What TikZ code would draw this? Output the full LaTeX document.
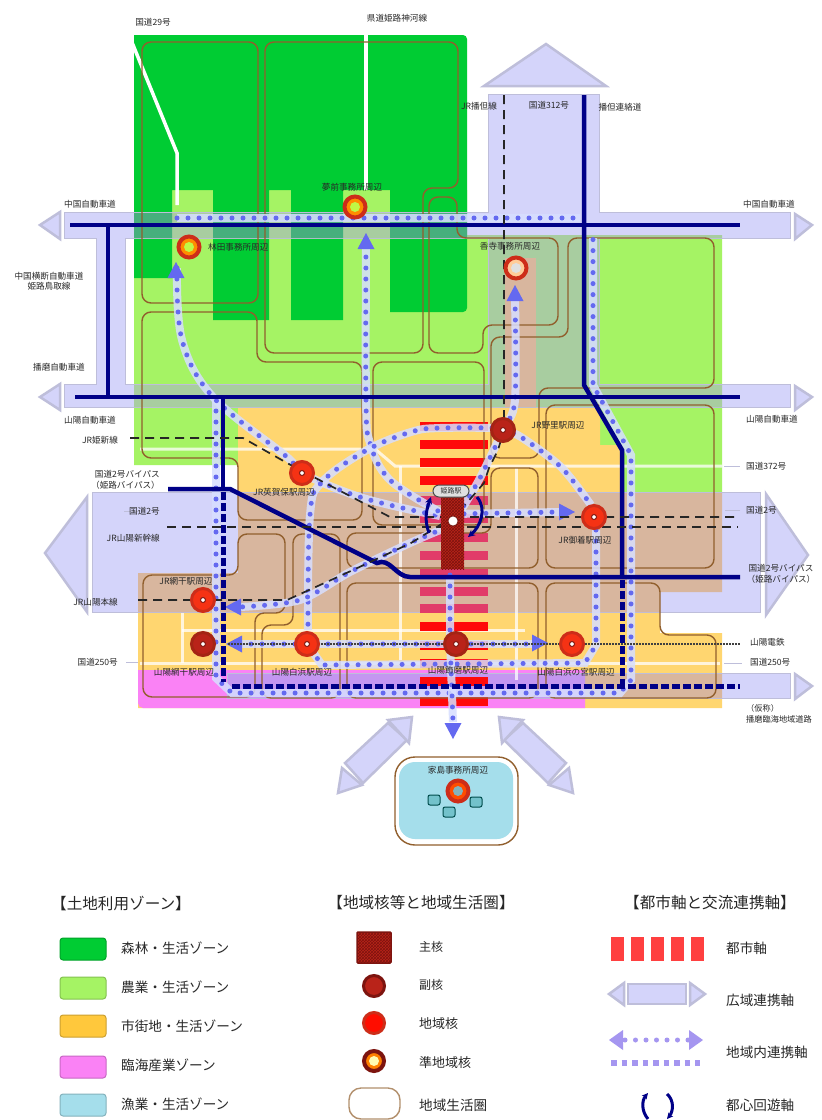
\documentclass[tikz,border=0pt]{standalone}
\usepackage{fontspec}
\setmainfont{Noto Sans CJK JP}
\usetikzlibrary{patterns,arrows.meta}
\definecolor{forestz}{RGB}{0,204,51}
\definecolor{farmz}{RGB}{165,243,100}
\definecolor{cityz}{RGB}{255,214,112}
\definecolor{portz}{RGB}{250,130,245}
\definecolor{fishz}{RGB}{165,222,235}
\definecolor{forestt}{RGB}{70,175,125}
\definecolor{farmt}{RGB}{168,205,160}
\definecolor{cityt}{RGB}{216,182,158}
\definecolor{portt}{RGB}{195,150,240}
\definecolor{lav}{RGB}{212,212,250}
\definecolor{lavline}{RGB}{190,190,218}
\definecolor{navy}{RGB}{0,0,135}
\definecolor{sphere}{RGB}{145,95,45}
\definecolor{linkb}{RGB}{100,105,240}
\definecolor{halo}{RGB}{215,222,255}
\definecolor{redaxis}{RGB}{255,10,10}
\definecolor{crim}{RGB}{225,60,105}
\definecolor{corered}{RGB}{185,35,25}
\definecolor{coredark}{RGB}{125,20,15}
\definecolor{regred}{RGB}{245,50,20}
\definecolor{ringred}{RGB}{205,45,25}
\definecolor{txt}{RGB}{40,40,40}
\definecolor{legorange}{RGB}{255,200,60}
\definecolor{leglink}{RGB}{165,150,240}
\tikzset{
  x=1pt,y=-1pt,
  lbl/.style={text=txt,font=\fontsize{8.6}{10.5}\selectfont,inner sep=0pt,align=center},
  leg/.style={text=txt,font=\fontsize{13.6}{15}\selectfont,inner sep=0pt,anchor=west},
  legh/.style={text=black!85,font=\fontsize{15.6}{17}\selectfont,inner sep=0pt},
  bandline/.style={draw=lavline,line width=2.5pt,fill=lav},
  lifesphere/.style={draw=sphere,line width=1.4pt,rounded corners=9pt},
  roadw/.style={draw=white,line width=3pt,opacity=.75},
  navyl/.style={draw=navy,line width=4.5pt},
  navyd/.style={draw=navy,line width=5pt,dash pattern=on 8pt off 3pt},
  rail/.style={draw=black!85,line width=1.7pt,dash pattern=on 9pt off 6pt},
  halol/.style={draw=halo,line width=8pt,opacity=.85},
  dotl/.style={draw=linkb,line width=5pt,line cap=round,dash pattern=on 0pt off 11pt},
  regional/.style={circle,inner sep=0pt,minimum size=23pt,draw=ringred,line width=3pt,fill=regred},
  subcore/.style={circle,inner sep=0pt,minimum size=23pt,draw=ringred!80!black,line width=3pt,fill=corered},
  hubdot/.style={circle,inner sep=0pt,minimum size=5pt,draw=corered!70!black,line width=1pt,fill=white},
  quasiout/.style={circle,inner sep=0pt,minimum size=21pt,draw=ringred,line width=4pt,fill=orange!90!yellow},
  quasiin/.style={circle,inner sep=0pt,minimum size=10pt},
  swatch/.style={rounded corners=3pt,line width=1pt},
}
\newcommand{\zonesall}[5]{%
  \fill[#2] (134,190) -- (467,190) -- (467,235) -- (722,235) -- (722,493) -- (590,493) -- (590,465) -- (134,465) -- cycle;
  \fill[#1,rounded corners=4pt] (134,35) -- (467,35) -- (467,312) [sharp corners] -- (390,312) -- (390,190) -- (343,190) -- (343,320) -- (291,320) -- (291,190) -- (269,190) -- (269,320) -- (213,320) -- (213,190) -- (172,190) -- (172,278) -- (134,278) -- cycle;
  \fill[#3] (505,258) rectangle (536,408);
  \fill[#3] (238,408) -- (600,408) -- (600,445) -- (620,445) -- (620,493) -- (722,493) -- (722,592) -- (660,592) -- (660,633) -- (722,633) -- (722,708) -- (138,708) -- (138,573) -- (238,573) -- cycle;
  \fill[#4,rounded corners=5pt] (138,670) -- (138,708) -- (400,708) [sharp corners] -- (585,708) -- (585,670) -- cycle;
}
\newcommand{\bandbody}[2]{\draw[draw=lavline,line width=2.5pt] #1 rectangle #2;}
\newcommand{\bandfill}[2]{\fill[lav] #1 rectangle #2;}
\newcommand{\dotlink}[1]{\draw[halol] #1; \draw[dotl] #1;}
\newcommand{\tipat}[3]{\fill[linkb,shift={(#1,#2)},rotate=#3] (0,0) -- (-16,-8.5) -- (-16,8.5) -- cycle;}
\begin{document}
\begin{tikzpicture}
\useasboundingbox (0,0) rectangle (822,1120);
\fill[white] (0,0) rectangle (822,1120);
% hub positions
\coordinate (pa) at (355,207); \coordinate (pb) at (189,247); \coordinate (pc) at (516,268);
\coordinate (pd) at (503,430); \coordinate (pe) at (302,473); \coordinate (pf) at (594,517);
\coordinate (pg) at (203,600); \coordinate (ph) at (203,644); \coordinate (pi) at (307,644);
\coordinate (pj) at (456,644); \coordinate (pk) at (572,644); \coordinate (pl) at (458,791);
\coordinate (pz) at (453,521);
% zones
\zonesall{forestz}{farmz}{cityz}{portz}{}
% bands: outlines first, then fills so that they merge
\bandbody{(97,225)}{(125,397)}
\bandbody{(489,95)}{(599,400)}
\bandbody{(65,213)}{(790,238)}
\bandbody{(65,385)}{(790,407)}
\bandbody{(93,493)}{(760,612)}
\bandbody{(228,674)}{(790,698)}
\bandfill{(97,225)}{(125,397)}
\bandfill{(489,95)}{(599,400)}
\bandfill{(65,213)}{(790,238)}
\bandfill{(65,385)}{(790,407)}
\bandfill{(93,493)}{(760,612)}
\bandfill{(228,674)}{(790,698)}
\begin{scope}
\clip (489,95) rectangle (599,400) (65,213) rectangle (790,238) (65,385) rectangle (790,407) (93,493) rectangle (760,612) (228,674) rectangle (790,698);
\zonesall{forestt}{farmt}{cityt}{portt}{}
\end{scope}
\draw[bandline] (40,225) -- (60,212) -- (60,239) -- cycle;
\draw[bandline] (40,397) -- (60,384) -- (60,410) -- cycle;
\draw[bandline] (812,225) -- (795,214) -- (795,239) -- cycle;
\draw[bandline] (812,397) -- (795,386) -- (795,410) -- cycle;
\draw[bandline] (812,686) -- (795,674) -- (795,699) -- cycle;
\draw[bandline] (546,44) -- (606,86) -- (484,86) -- cycle;
\draw[bandline] (45,553) -- (87,497) -- (87,612) -- cycle;
\draw[bandline] (808,555) -- (766,494) -- (766,615) -- cycle;
% diagonal bands
\draw[bandline] (345,763) -- (363,783) -- (407,740) -- (388,723) -- cycle;
\draw[bandline] (342,768) -- (338,793) -- (362,785) -- cycle;
\draw[bandline] (388,720) -- (412,717) -- (409,743) -- cycle;
\draw[bandline] (566,763) -- (548,783) -- (504,740) -- (523,723) -- cycle;
\draw[bandline] (569,768) -- (573,793) -- (549,785) -- cycle;
\draw[bandline] (523,720) -- (499,717) -- (502,743) -- cycle;
% roads
\draw[white,line width=3.5pt] (129,35) -- (177,153) -- (177,205);
\draw[white,line width=4pt] (366,35) -- (366,190);
\draw[roadw] (140,449) -- (375,449) -- (395,466) -- (722,466);
\draw[roadw] (140,663) -- (720,663);
\draw[roadw] (182,613) -- (182,663);
\draw[roadw] (182,630) -- (525,630);
\draw[roadw] (516,468) -- (516,680);
\draw[roadw] (400,466) -- (400,660);
\draw[lavline,line width=1pt] (724,466) -- (740,466) (126,662) -- (138,662) (724,663) -- (742,663);
\draw[lavline,line width=1pt] (740,510) -- (725,510) (124,511) -- (140,511);
% island
\fill[fishz,rounded corners=16pt] (399,762) rectangle (513,839);
\draw[lifesphere,rounded corners=20pt] (395,757) rectangle (518,845);
% axis stripes
\foreach \yy in {422,440,458,476} \fill[redaxis] (420,\yy) rectangle (488,\yy+8.5);
\foreach \yy in {496,514,533,551,569,587} \fill[crim] (420,\yy) rectangle (488,\yy+8.5);
\foreach \yy in {604} \fill[crim] (420,\yy) rectangle (488,\yy+8.5);
\foreach \yy in {622,641,659,677,697} \fill[redaxis] (420,\yy) rectangle (488,\yy+8.5);
% life spheres
\draw[lifesphere] (142,42) rectangle (258,303);
\draw[lifesphere] (265,42) -- (458,42) -- (458,188) -- (423,188) -- (423,353) -- (265,353) -- cycle;
\draw[lifesphere] (429,197) -- (457,197) -- (457,238) -- (558,238) -- (558,325) -- (483,325) -- (483,353) -- (429,353) -- cycle;
\draw[lifesphere] (142,312) -- (257,312) -- (257,362) -- (362,362) -- (362,520) -- (238,520) -- (238,458) -- (142,458) -- cycle;
\draw[lifesphere] (373,362) -- (484,362) -- (484,525) -- (373,525) -- cycle;
\draw[lifesphere] (491,337) -- (568,337) -- (568,238) -- (714,238) -- (714,388) -- (539,388) -- (539,458) -- (491,458) -- cycle;
\draw[lifesphere] (546,405) -- (714,405) -- (714,568) -- (546,568) -- cycle;
\draw[lifesphere] (347,533) -- (491,533) -- (491,468) -- (538,468) -- (538,568) -- (347,568) -- cycle;
\draw[lifesphere] (143,575) -- (238,575) -- (238,534) -- (285,534) -- (285,613) -- (255,613) -- (255,697) -- (143,697) -- cycle;
\draw[lifesphere] (293,534) -- (340,534) -- (340,698) -- (262,698) -- (262,625) -- (293,625) -- cycle;
\draw[lifesphere] (347,583) -- (538,583) -- (538,698) -- (347,698) -- cycle;
\draw[lifesphere] (546,583) -- (660,583) -- (660,635) -- (716,635) -- (716,698) -- (546,698) -- cycle;
% dotted links
\dotlink{(216,400) -- (216,678) -- (232,693) -- (620,693) -- (631,680) -- (631,455) -- (593,385) -- (593,238)}
\dotlink{(177,218) -- (580,218)}
\dotlink{plot[smooth,tension=.6] coordinates {(177,268) (182,340) (213,397) (287,457) (302,473) (363,498) (440,516)}}
\dotlink{plot[smooth,tension=.6] coordinates {(366,246) (366,400) (370,443) (390,480) (440,512)}}
\dotlink{plot[smooth,tension=.5] coordinates {(515,298) (515,400) (503,430) (480,478) (460,512)}}
\dotlink{plot[smooth,tension=.6] coordinates {(503,428) (440,428) (411,432) (367,450) (322,482) (310,515) (308,630)}}
\dotlink{plot[smooth,tension=.5] coordinates {(503,430) (521,437) (561,467) (591,505)}}
\dotlink{(596,530) -- (596,645) -- (585,663) -- (322,665) -- (307,644)}
\dotlink{(453,514) -- (560,512)}
\dotlink{plot[smooth,tension=.5] coordinates {(445,528) (410,543) (350,572) (300,600) (240,607)}}
\dotlink{(240,644) -- (535,644)}
\dotlink{(450,575) -- (450,640) -- (453,722)}
\tipat{176}{262}{90}
\tipat{366}{233}{90}
\tipat{515}{285}{90}
\tipat{575}{512}{0}
\tipat{225}{607}{180}
\tipat{226}{644}{180}
\tipat{548}{643}{0}
\tipat{453}{739}{270}
% navy axes
\draw[navyl] (70,225) -- (740,225);
\draw[navyl] (75,397) -- (740,397);
\draw[navyl] (108,225) -- (108,397);
\draw[navyl] (584,95) -- (584,385) -- (594,402) -- (622,450) -- (622,577);
\draw[navyl] (168,489) -- (230,489) -- (377,563) to[out=25,in=180] (410,577) -- (740,577);
\draw[navyl] (223,397) -- (223,489);
\draw[navyd] (223,492) -- (223,682);
\draw[navyd] (622,580) -- (622,686);
\draw[navyd] (232,686) -- (740,686);
% rails
\draw[rail] (130,438) -- (243,438) -- (287,463) -- (390,517) -- (738,517);
\draw[rail] (167,527) -- (738,527);
\draw[rail] (138,600) -- (287,600) -- (353,570) -- (411,543) -- (453,517);
\draw[rail] (504,95) -- (504,430) -- (498,450) -- (489,468) -- (484,483) -- (465,505);
\draw[draw=black!75,line width=1.6pt,dash pattern=on 2pt off 1pt] (228,644) -- (740,644);
% main core
\fill[corered] (441,497) rectangle (464,569);
\fill[pattern=crosshatch,pattern color=coredark] (441,497) rectangle (464,569);
\node[circle,inner sep=0pt,minimum size=10pt,fill=white,draw=corered!60!black,line width=.6pt] (core) at (pz) {};
\node[draw=black!70,fill=black!12,line width=1pt,rounded corners=6pt,inner sep=1pt,minimum width=36pt,minimum height=12pt,font=\fontsize{7}{8}\selectfont,text=black!80] (corelabel) at (451,491) {姫路駅};
\draw[navy,line width=3pt,-{Stealth[length=7pt,width=7pt]}] (429,533) to[out=110,in=250] (431,497);
\draw[navy,line width=3pt,-{Stealth[length=7pt,width=7pt]}] (477,497) to[out=-50,in=40] (468,537);
% hubs
\foreach \nm/\pos in {ra/pe,rb/pf,rc/pg,rd/pi,re/pk}{\node[regional] (\nm) at (\pos) {}; \node[hubdot] (\nm d) at (\pos) {};}
\foreach \nm/\pos in {sa/pd,sb/ph,sc/pj}{\node[subcore] (\nm) at (\pos) {}; \node[hubdot] (\nm d) at (\pos) {};}
\node[quasiout] (qa) at (pa) {}; \node[quasiin,fill=farmz!70!yellow] (qad) at (pa) {};
\node[quasiout] (qb) at (pb) {}; \node[quasiin,fill=farmz!70!yellow] (qbd) at (pb) {};
\node[quasiout,fill=white!60!orange,draw=ringred] (qc) at (pc) {}; \node[quasiin,fill=black!12] (qcd) at (pc) {};
\node[quasiout,fill=orange!60!red] (ql) at (pl) {}; \node[quasiin,fill=fishz!80!black] (qld) at (pl) {};
% island squares
\foreach \nm/\xx/\yy in {isa/434/800,isb/476/802,isc/449/812}{\node[draw=teal!60!black,fill=fishz!70!teal,line width=1pt,rounded corners=2pt,minimum width=12pt,minimum height=10pt,inner sep=0pt] (\nm) at (\xx,\yy) {};}
% labels
\node[lbl] (t01) at (153,22) {国道29号};
\node[lbl] (t02) at (397,18) {県道姫路神河線};
\node[lbl] (t03) at (479,106) {JR播但線};
\node[lbl] (t04) at (549,105) {国道312号};
\node[lbl] (t05) at (620,107) {播但連絡道};
\node[lbl] (t06) at (90,204) {中国自動車道};
\node[lbl] (t07) at (769,204) {中国自動車道};
\node[lbl] (t08) at (49,281) {中国横断自動車道\\姫路鳥取線};
\node[lbl] (t09) at (59,367) {播磨自動車道};
\node[lbl] (t10) at (90,420) {山陽自動車道};
\node[lbl] (t11) at (772,419) {山陽自動車道};
\node[lbl] (t12) at (100,440) {JR姫新線};
\node[lbl,align=right,anchor=east] (t13) at (160,480) {国道2号バイパス\\（姫路バイパス）};
\node[lbl,anchor=east] (t14) at (160,511) {国道2号};
\node[lbl,anchor=east] (t15) at (160,538) {JR山陽新幹線};
\node[lbl,anchor=east] (t16) at (118,602) {JR山陽本線};
\node[lbl,anchor=east] (t17) at (118,662) {国道250号};
\node[lbl,anchor=west] (t18) at (746,466) {国道372号};
\node[lbl,anchor=west] (t19) at (746,510) {国道2号};
\node[lbl] (t20) at (781,574) {国道2号バイパス\\（姫路バイパス）};
\node[lbl,anchor=west] (t21) at (750,642) {山陽電鉄};
\node[lbl,anchor=west] (t22) at (750,662) {国道250号};
\node[lbl,anchor=west,align=left,font=\fontsize{8.2}{11}\selectfont] (t23) at (746,714) {（仮称）\\播磨臨海地域道路};
\node[lbl,anchor=west] (t24) at (208,247) {林田事務所周辺};
\node[lbl] (t25) at (352,187) {夢前事務所周辺};
\node[lbl] (t26) at (510,246) {香寺事務所周辺};
\node[lbl] (t27) at (558,425) {JR野里駅周辺};
\node[lbl] (t28) at (284,492) {JR英賀保駅周辺};
\node[lbl] (t29) at (585,540) {JR御着駅周辺};
\node[lbl] (t30) at (186,581) {JR網干駅周辺};
\node[lbl] (t31) at (184,672) {山陽網干駅周辺};
\node[lbl] (t32) at (302,672) {山陽白浜駅周辺};
\node[lbl] (t33) at (458,670) {山陽飾磨駅周辺};
\node[lbl] (t34) at (576,672) {山陽白浜の宮駅周辺};
\node[lbl] (t35) at (458,770) {家島事務所周辺};
% legend headings
\node[legh] (h1) at (121,903) {【土地利用ゾーン】};
\node[legh] (h2) at (421,903) {【地域核等と地域生活圏】};
\node[legh] (h3) at (710,903) {【都市軸と交流連携軸】};
% legend zones
\draw[swatch,draw=forestz!80!black,fill=forestz] (60,938) rectangle (106,960);
\draw[swatch,draw=farmz!80!black,fill=farmz] (60,977) rectangle (106,999);
\draw[swatch,draw=legorange!80!black,fill=legorange] (60,1015) rectangle (106,1037);
\draw[swatch,draw=portz!80!black,fill=portz] (60,1056) rectangle (106,1078);
\draw[swatch,draw=fishz!80!black,fill=fishz] (60,1094) rectangle (106,1116);
\node[leg] (la) at (121,948) {森林・生活ゾーン};
\node[leg] (lb) at (121,987) {農業・生活ゾーン};
\node[leg] (lc) at (121,1026) {市街地・生活ゾーン};
\node[leg] (ld) at (121,1065) {臨海産業ゾーン};
\node[leg] (le) at (121,1104) {漁業・生活ゾーン};
% legend core
\draw[coredark,line width=1.5pt,fill=corered,rounded corners=1pt] (357,932) rectangle (391,963);
\fill[pattern=crosshatch,pattern color=coredark] (358,933) rectangle (390,962);
\node[subcore,draw=coredark,minimum size=21pt] (lg2) at (374,986) {};
\node[regional,fill=red!90!orange,minimum size=21pt] (lg3) at (374,1023) {};
\node[quasiout,draw=coredark,minimum size=20pt,fill=orange] (lg4) at (374,1061) {};
\node[quasiin,fill=white!70!yellow] (lg4d) at (374,1061) {};
\draw[draw=sphere!70!white,line width=1.4pt,fill=white,rounded corners=12pt] (349,1088) rectangle (400,1119);
\node[leg,font=\fontsize{12}{14}\selectfont] (ma) at (419,947) {主核};
\node[leg,font=\fontsize{12}{14}\selectfont] (mb) at (419,985) {副核};
\node[leg,font=\fontsize{13}{14}\selectfont] (mc) at (419,1024) {地域核};
\node[leg,font=\fontsize{13}{14}\selectfont] (md) at (419,1063) {準地域核};
\node[leg] (me) at (419,1105) {地域生活圏};
% legend axes
\foreach \xx in {611,631,651,671,691} \fill[red!75!white] (\xx,937) rectangle (\xx+13,961);
\draw[bandline] (628,984) rectangle (686,1004);
\draw[bandline] (609,994) -- (624,983) -- (624,1005) -- cycle;
\draw[bandline] (705,994) -- (690,983) -- (690,1005) -- cycle;
\fill[leglink] (609,1040) -- (623,1030) -- (623,1050) -- cycle;
\fill[leglink] (703,1040) -- (689,1030) -- (689,1050) -- cycle;
\draw[leglink,line width=5pt,line cap=round,dash pattern=on 0pt off 10.5pt] (625,1040) -- (688,1040);
\draw[leglink,line width=5.5pt,dash pattern=on 5.5pt off 5pt] (611,1063) -- (700,1063);
\draw[navy,line width=3pt,-{Stealth[length=6pt,width=6pt]}] (648,1119) to[out=130,in=230] (648,1093);
\draw[navy,line width=3pt,-{Stealth[length=6pt,width=6pt]}] (667,1094) to[out=-40,in=50] (667,1119);
\node[leg] (ra1) at (726,948) {都市軸};
\node[leg] (ra2) at (726,1000) {広域連携軸};
\node[leg] (ra3) at (726,1052) {地域内連携軸};
\node[leg] (ra4) at (726,1105) {都心回遊軸};
\end{tikzpicture}
\end{document}
